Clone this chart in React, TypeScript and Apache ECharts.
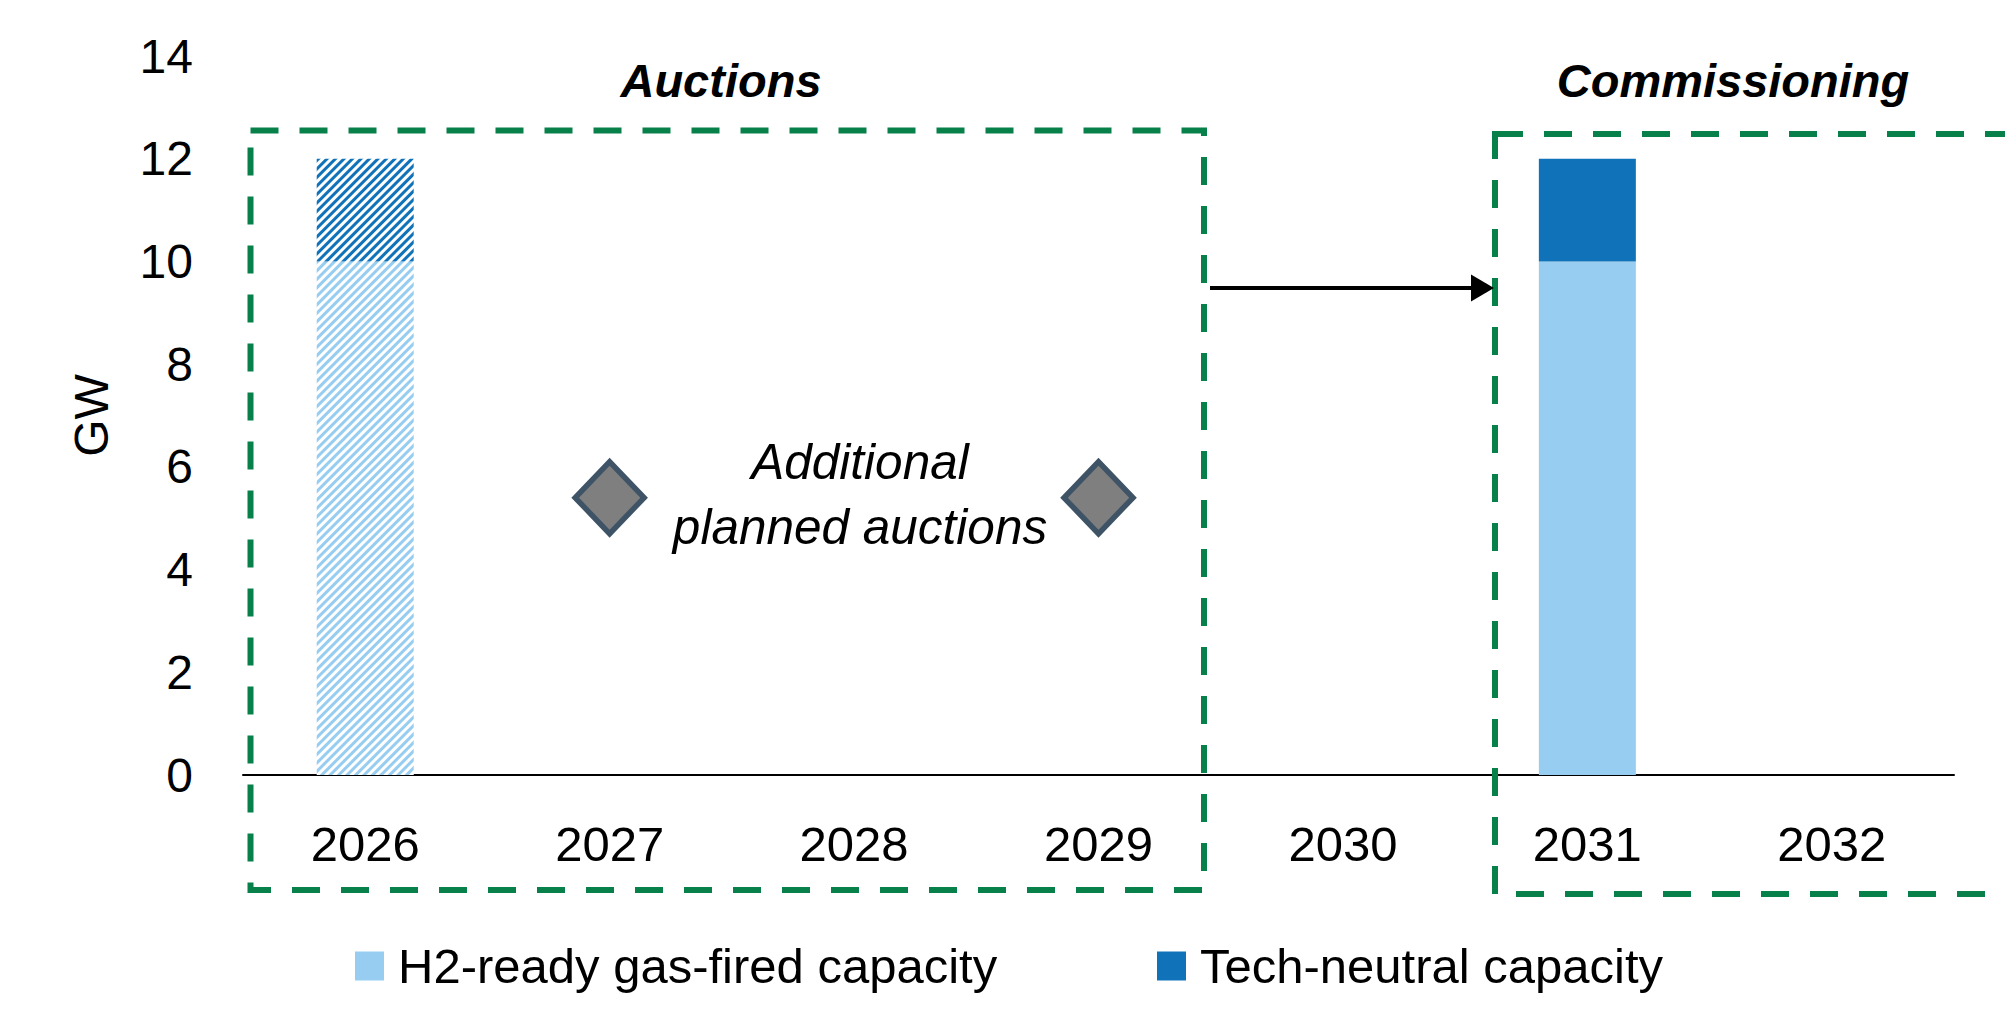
import React, { useEffect, useRef } from "react";
import * as echarts from "echarts";

const categories = ["2026", "2027", "2028", "2029", "2030", "2031", "2032"];
// 2026 auctions (hatched)
const h2Auctioned = [10, 0, 0, 0, 0, 0, 0];
const techAuctioned = [2, 0, 0, 0, 0, 0, 0];
// 2031 commissioning (solid)
const h2Commissioned = [0, 0, 0, 0, 0, 10, 0];
const techCommissioned = [0, 0, 0, 0, 0, 2, 0];
// additional planned auctions markers
const additionalAuctionYears = ["2027", "2029"];
const additionalAuctionLevel = [5.4, 5.4];

const yMin = 0;
const yMax = 14;
const yInterval = 2;

const LIGHT = "#97CDF0";
const DARK = "#1072B8";
const GREEN = "#08804A";
const FONT = "'Liberation Sans', Arial, sans-serif";

const H2_NAME = "H2-ready gas-fired capacity";
const TECH_NAME = "Tech-neutral capacity";

const hatch = (color: string) => ({
  symbol: "rect",
  symbolSize: 1,
  dashArrayX: [1, 0],
  dashArrayY: [3, 3],
  rotation: -Math.PI / 4,
  color,
});

export default function App() {
  const ref = useRef<HTMLDivElement>(null);

  useEffect(() => {
    if (!ref.current) return;
    const chart = echarts.init(ref.current, undefined, { renderer: "svg" });

    const legendCommon = {
      icon: "rect",
      itemWidth: 29,
      itemHeight: 29,
      padding: 0,
      top: 941,
      selectedMode: false,
      textStyle: {
        fontFamily: FONT,
        fontSize: 49,
        color: "#000",
        lineHeight: 50,
        padding: [0, 0, 0, 9],
      },
    };

    chart.setOption({
      animation: false,
      backgroundColor: "#ffffff",
      grid: { left: 243, right: 51, top: 56, bottom: 254, containLabel: false },
      legend: [
        { ...legendCommon, left: 355, data: [H2_NAME] },
        { ...legendCommon, left: 1157, data: [TECH_NAME] },
      ],
      xAxis: {
        type: "category",
        data: categories,
        axisLine: { show: true, lineStyle: { color: "#000", width: 2 } },
        axisTick: { show: false },
        axisLabel: {
          fontFamily: FONT,
          fontSize: 49,
          color: "#000",
          margin: 44,
        },
        splitLine: { show: false },
      },
      yAxis: {
        type: "value",
        min: yMin,
        max: yMax,
        interval: yInterval,
        name: "GW",
        nameLocation: "middle",
        nameGap: 128,
        nameRotate: 90,
        nameTextStyle: { fontFamily: FONT, fontSize: 48, color: "#000" },
        axisLine: { show: false },
        axisTick: { show: false },
        splitLine: { show: false },
        axisLabel: {
          fontFamily: FONT,
          fontSize: 48,
          color: "#000",
          margin: 50,
        },
      },
      series: [
        {
          name: "H2 auctioned",
          type: "bar",
          stack: "cap",
          barWidth: 97,
          data: h2Auctioned,
          itemStyle: { color: "#ffffff", decal: hatch(LIGHT) },
        },
        {
          name: H2_NAME,
          type: "bar",
          stack: "cap",
          barWidth: 97,
          data: h2Commissioned,
          itemStyle: { color: LIGHT },
        },
        {
          name: "Tech auctioned",
          type: "bar",
          stack: "cap",
          barWidth: 97,
          data: techAuctioned,
          itemStyle: { color: "#ffffff", decal: hatch(DARK) },
        },
        {
          name: TECH_NAME,
          type: "bar",
          stack: "cap",
          barWidth: 97,
          data: techCommissioned,
          itemStyle: { color: DARK },
        },
        {
          name: "Additional planned auctions",
          type: "scatter",
          symbol: "diamond",
          symbolSize: [69, 72],
          data: additionalAuctionYears.map((y, i) => [y, additionalAuctionLevel[i]]),
          itemStyle: { color: "#7F7F7F", borderColor: "#3E5366", borderWidth: 5.5, opacity: 1 },
        },
      ],
      graphic: [
        {
          type: "rect",
          shape: { x: 250.5, y: 130.5, width: 953.5, height: 759.5 },
          style: { fill: "none", stroke: GREEN, lineWidth: 6, lineDash: [28, 21] },
          z: 10,
        },
        {
          type: "rect",
          shape: { x: 1495, y: 134, width: 600, height: 760 },
          style: { fill: "none", stroke: GREEN, lineWidth: 6, lineDash: [28, 21] },
          z: 10,
        },
        {
          type: "line",
          shape: { x1: 1210, y1: 288, x2: 1474, y2: 288 },
          style: { stroke: "#000", lineWidth: 4 },
          z: 10,
        },
        {
          type: "polygon",
          shape: { points: [[1471, 274.5], [1494, 288], [1471, 301.5]] },
          style: { fill: "#000" },
          z: 10,
        },
        {
          type: "text",
          x: 721,
          y: 80,
          style: {
            text: "Auctions",
            fontFamily: FONT,
            fontSize: 47,
            fontWeight: "bold",
            fontStyle: "italic",
            fill: "#000",
            align: "center",
            verticalAlign: "middle",
          },
          z: 10,
        },
        {
          type: "text",
          x: 1733,
          y: 80,
          style: {
            text: "Commissioning",
            fontFamily: FONT,
            fontSize: 47,
            fontWeight: "bold",
            fontStyle: "italic",
            fill: "#000",
            align: "center",
            verticalAlign: "middle",
          },
          z: 10,
        },
        {
          type: "text",
          x: 860,
          y: 494,
          style: {
            text: "Additional\nplanned auctions",
            fontFamily: FONT,
            fontSize: 49.5,
            fontStyle: "italic",
            lineHeight: 65,
            fill: "#000",
            align: "center",
            verticalAlign: "middle",
          },
          z: 10,
        },
      ],
    });

    return () => chart.dispose();
  }, []);

  return (
    <div
      ref={ref}
      style={{ position: "fixed", left: 0, top: 0, width: 2005, height: 1029 }}
    />
  );
}
